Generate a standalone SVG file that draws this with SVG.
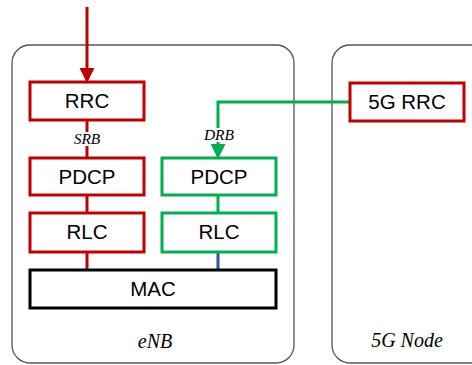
<svg xmlns="http://www.w3.org/2000/svg" width="472" height="365" viewBox="0 0 472 365">
<defs>
<style>
.node{fill:#fff;stroke:#555;stroke-width:1.3}
.red{fill:#fff;stroke:#c00000;stroke-width:3}
.grn{fill:#fff;stroke:#00b050;stroke-width:3}
.blk{fill:#fff;stroke:#000;stroke-width:3}
.lbl{font-family:"Liberation Sans",Arial,sans-serif;font-size:20.5px;fill:#000;text-anchor:middle}
.it{font-family:"Liberation Serif","Times New Roman",serif;font-style:italic;fill:#000;text-anchor:middle}
</style>
<marker id="ar" markerWidth="5" markerHeight="5" refX="4" refY="2.5" orient="auto" markerUnits="strokeWidth"><path d="M0,0 L5,2.5 L0,5 z" fill="#c00000"/></marker>
<marker id="ag" markerWidth="5" markerHeight="5" refX="4" refY="2.5" orient="auto" markerUnits="strokeWidth"><path d="M0,0 L5,2.5 L0,5 z" fill="#00b050"/></marker>
</defs>
<g id="enb"><rect class="node" x="12" y="45" width="282" height="318" rx="18"/><text class="it" x="155" y="348" font-size="20">eNB</text></g>
<g id="node5g"><rect class="node" x="332" y="45" width="160" height="318" rx="18"/><text class="it" x="407" y="347" font-size="20">5G Node</text></g>
<g id="connectors">
<line x1="87" y1="7" x2="87" y2="80" stroke="#c00000" stroke-width="3" marker-end="url(#ar)"/>
<line x1="87" y1="120" x2="87" y2="158" stroke="#c00000" stroke-width="3"/>
<line x1="87" y1="195" x2="87" y2="213" stroke="#c00000" stroke-width="3"/>
<line x1="87" y1="252" x2="87" y2="270" stroke="#c00000" stroke-width="3"/>
<polyline points="350,102 218,102 218,156" fill="none" stroke="#00b050" stroke-width="3" marker-end="url(#ag)"/>
<line x1="218" y1="195" x2="218" y2="213" stroke="#00b050" stroke-width="3"/>
<line x1="218" y1="252" x2="218" y2="270" stroke="#2f5597" stroke-width="3"/>
<rect x="70" y="132" width="34" height="14" fill="#fff"/>
<text class="it" x="87" y="144" font-size="15.5">SRB</text>
<rect x="200" y="128" width="36" height="14" fill="#fff"/>
<text class="it" x="219" y="140" font-size="15.5">DRB</text>
</g>
<g id="rrc"><rect class="red" x="30" y="82" width="114" height="38"/><text class="lbl" x="87" y="108">RRC</text></g>
<g id="pdcp1"><rect class="red" x="30" y="158" width="114" height="37"/><text class="lbl" x="87" y="184">PDCP</text></g>
<g id="rlc1"><rect class="red" x="30" y="213" width="114" height="39"/><text class="lbl" x="87" y="239">RLC</text></g>
<g id="pdcp2"><rect class="grn" x="162" y="158" width="114" height="37"/><text class="lbl" x="219" y="184">PDCP</text></g>
<g id="rlc2"><rect class="grn" x="162" y="213" width="114" height="39"/><text class="lbl" x="219" y="239">RLC</text></g>
<g id="mac"><rect class="blk" x="30" y="270" width="246" height="38"/><text class="lbl" x="153" y="296">MAC</text></g>
<g id="rrc5g"><rect class="red" x="350" y="83" width="114" height="38"/><text class="lbl" x="407" y="109">5G RRC</text></g>
</svg>
